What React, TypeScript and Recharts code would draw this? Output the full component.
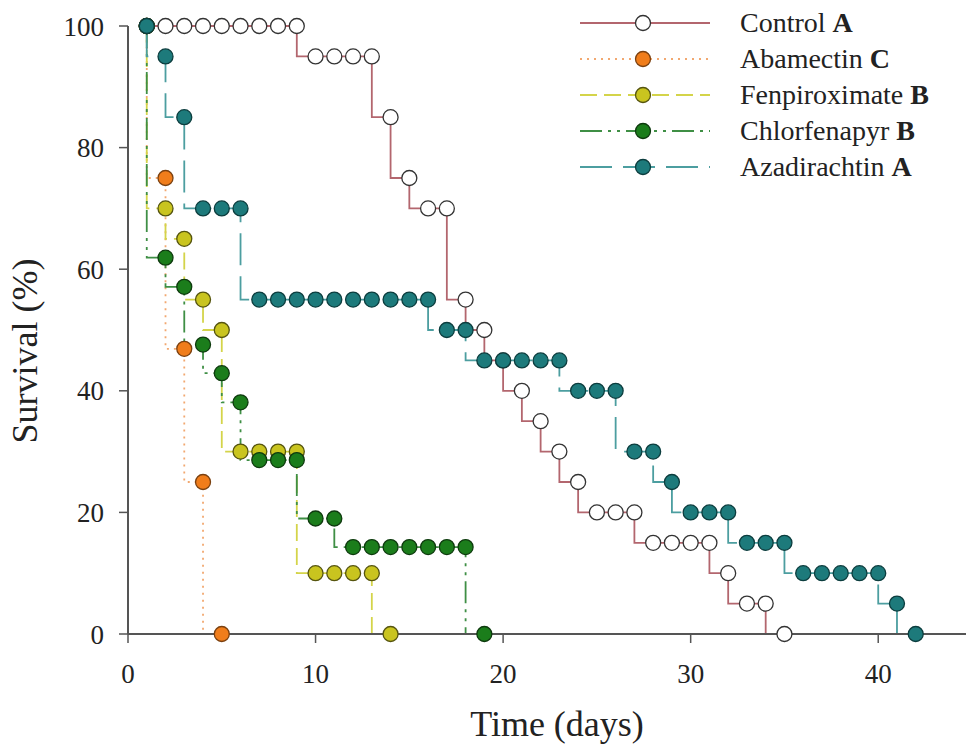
import { LineChart, Line, XAxis, YAxis, Legend, Label } from 'recharts'

const FONT = '"Liberation Serif", "Times New Roman", serif'

// survival (%) per day
const CONTROL_DAYS = [1, 2, 3, 4, 5, 6, 7, 8, 9, 10, 11, 12, 13, 14, 15, 16, 17, 18, 19, 20, 21, 22, 23, 24, 25, 26, 27, 28, 29, 30, 31, 32, 33, 34, 35]
const CONTROL_SURV = [100, 100, 100, 100, 100, 100, 100, 100, 100, 95, 95, 95, 95, 85, 75, 70, 70, 55, 50, 45, 40, 35, 30, 25, 20, 20, 20, 15, 15, 15, 15, 10, 5, 5, 0]

const ABAMECTIN_DAYS = [1, 2, 3, 4, 5]
const ABAMECTIN_SURV = [100, 75, 46.9, 25, 0]

const FENPIROXIMATE_DAYS = [1, 2, 3, 4, 5, 6, 7, 8, 9, 10, 11, 12, 13, 14]
const FENPIROXIMATE_SURV = [100, 70, 65, 55, 50, 30, 30, 30, 30, 10, 10, 10, 10, 0]

const CHLORFENAPYR_DAYS = [1, 2, 3, 4, 5, 6, 7, 8, 9, 10, 11, 12, 13, 14, 15, 16, 17, 18, 19]
const CHLORFENAPYR_SURV = [100, 61.9, 57.1, 47.6, 42.9, 38.1, 28.6, 28.6, 28.6, 19, 19, 14.3, 14.3, 14.3, 14.3, 14.3, 14.3, 14.3, 0]

const AZADIRACHTIN_DAYS = [1, 2, 3, 4, 5, 6, 7, 8, 9, 10, 11, 12, 13, 14, 15, 16, 17, 18, 19, 20, 21, 22, 23, 24, 25, 26, 27, 28, 29, 30, 31, 32, 33, 34, 35, 36, 37, 38, 39, 40, 41, 42]
const AZADIRACHTIN_SURV = [100, 95, 85, 70, 70, 70, 55, 55, 55, 55, 55, 55, 55, 55, 55, 55, 50, 50, 45, 45, 45, 45, 45, 40, 40, 40, 30, 30, 25, 20, 20, 20, 15, 15, 15, 10, 10, 10, 10, 10, 5, 0]

const X_TICKS = [0, 10, 20, 30, 40]
const Y_TICKS = [0, 20, 40, 60, 80, 100]

const toRows = (days: number[], surv: number[]) => days.map((t, i) => ({ t, s: surv[i] }))

const SERIES = [
  { name: 'Control', letter: 'A', data: toRows(CONTROL_DAYS, CONTROL_SURV), line: '#b3666e', dash: undefined, fill: '#ffffff', edge: '#333333' },
  { name: 'Abamectin', letter: 'C', data: toRows(ABAMECTIN_DAYS, ABAMECTIN_SURV), line: '#f2a870', dash: '2 5', fill: '#f07d1b', edge: '#7a4010' },
  { name: 'Fenpiroximate', letter: 'B', data: toRows(FENPIROXIMATE_DAYS, FENPIROXIMATE_SURV), line: '#d4d44a', dash: '17 7', fill: '#c9c41f', edge: '#55540f' },
  { name: 'Chlorfenapyr', letter: 'B', data: toRows(CHLORFENAPYR_DAYS, CHLORFENAPYR_SURV), line: '#3f8f45', dash: '22 6 3 6 3 6', fill: '#1b7d1b', edge: '#0e3a0e' },
  { name: 'Azadirachtin', letter: 'A', data: toRows(AZADIRACHTIN_DAYS, AZADIRACHTIN_SURV), line: '#4c9ea0', dash: '32 11', fill: '#1d7a7b', edge: '#0c3d3e' },
]

type S = (typeof SERIES)[number]

const renderDot = (p: any, s: S) => (
  <circle
    key={`${s.name}-${p.index}`}
    cx={p.cx}
    cy={p.cy}
    r={7.5}
    fill={s.fill}
    stroke={s.edge}
    strokeWidth={1.3}
  />
)

const LegendBox = () => (
  <svg width={390} height={190} style={{ display: 'block' }}>
    {SERIES.map((s, i) => {
      const y = 23 + i * 36
      return (
        <g key={s.name}>
          <line x1={5} x2={135} y1={y} y2={y} stroke={s.line} strokeWidth={2} strokeDasharray={s.dash} />
          <circle cx={68} cy={y} r={7.5} fill={s.fill} stroke={s.edge} strokeWidth={1.3} />
          <text x={165} y={y + 9} fontSize={28} fontFamily={FONT} fill="#222">
            {s.name + ' '}
            <tspan fontWeight="bold">{s.letter}</tspan>
          </text>
        </g>
      )
    })}
  </svg>
)

export default function App() {
  const tick = { fontSize: 27, fontFamily: FONT, fill: '#222' }
  return (
    <div style={{ position: 'absolute', left: 0, top: 0, width: 966, height: 747, overflow: 'hidden', background: '#fff' }}>
      <LineChart width={990} height={747} margin={{ top: 26, right: 18, bottom: 53, left: 68 }}>
        <XAxis
          type="number"
          dataKey="t"
          domain={[0, 45]}
          ticks={X_TICKS}
          height={60}
          tick={tick}
          tickSize={9}
          tickMargin={21}
          axisLine={{ stroke: '#555', strokeWidth: 2 }}
          tickLine={{ stroke: '#555', strokeWidth: 1.5 }}
        >
          <Label
            content={(props: any) => {
              const vb = props.viewBox || { x: 128, width: 844 }
              return (
                <text x={vb.x + vb.width / 2 + 7} y={736} textAnchor="middle" fontSize={36} fontFamily={FONT} fill="#222">
                  Time (days)
                </text>
              )
            }}
          />
        </XAxis>
        <YAxis
          type="number"
          domain={[0, 100]}
          ticks={Y_TICKS}
          width={60}
          tick={tick}
          tickSize={9}
          tickMargin={15}
          axisLine={{ stroke: '#555', strokeWidth: 2 }}
          tickLine={{ stroke: '#555', strokeWidth: 1.5 }}
        >
          <Label
            content={() => (
              <text x={37} y={351} transform="rotate(-90 37 351)" textAnchor="middle" fontSize={36} fontFamily={FONT} fill="#222">
                Survival (%)
              </text>
            )}
          />
        </YAxis>
        <Legend
          layout="horizontal"
          verticalAlign="middle"
          align="center"
          wrapperStyle={{ top: 0, left: 575, width: 390, height: 190 }}
          content={() => <LegendBox />}
        />
        {SERIES.map((s) => (
          <Line
            key={s.name}
            name={s.name}
            data={s.data}
            dataKey="s"
            type="stepBefore"
            stroke={s.line}
            strokeWidth={1.8}
            strokeDasharray={s.dash}
            dot={(p: any) => renderDot(p, s)}
            activeDot={false}
            isAnimationActive={false}
          />
        ))}
      </LineChart>
    </div>
  )
}
